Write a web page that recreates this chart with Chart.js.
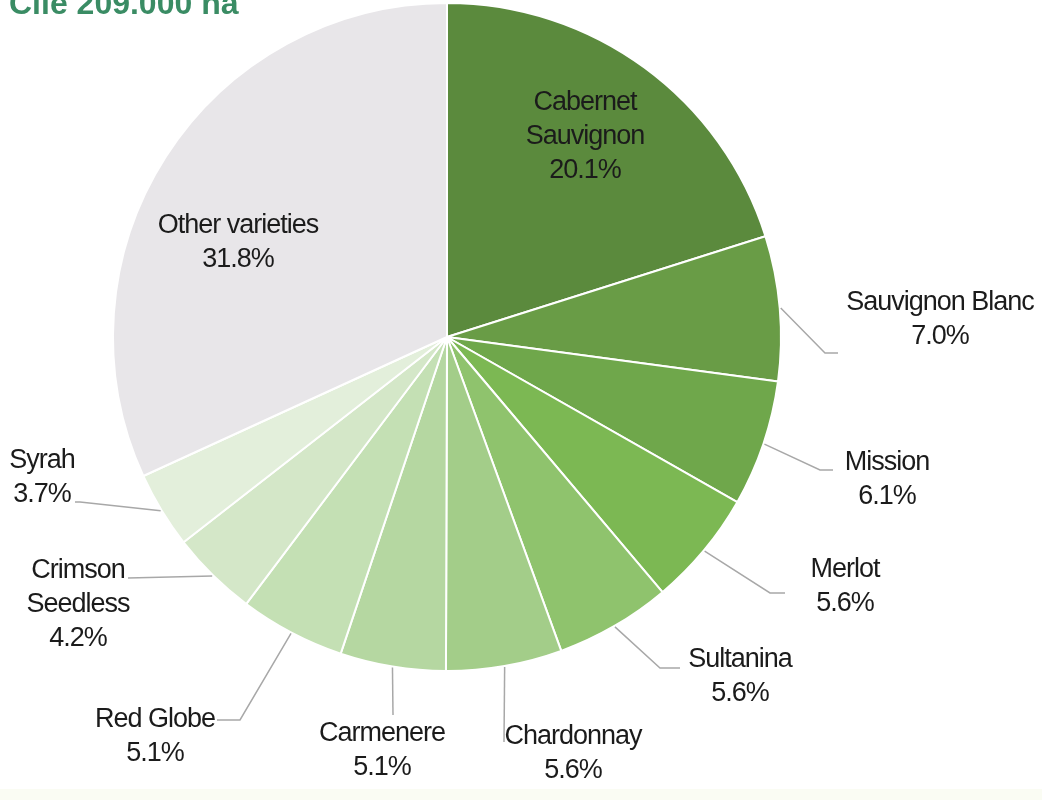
<!DOCTYPE html>
<html>
<head>
<meta charset="utf-8">
<script src="https://cdn.jsdelivr.net/npm/chart.js@4/dist/chart.umd.min.js"></script>
<style>
  html, body { margin: 0; padding: 0; background: #fff; }
  canvas { display: block; }
</style>
</head>
<body>
<canvas id="pieChart" width="1042" height="800"></canvas>
<script>
/** Data: varieties share of Chile vineyard area */
const varieties = [
  "Cabernet Sauvignon", "Sauvignon Blanc", "Mission", "Merlot", "Sultanina",
  "Chardonnay", "Carmenere", "Red Globe", "Crimson Seedless", "Syrah", "Other varieties"
];
const shares = [20.1, 7.0, 6.1, 5.6, 5.6, 5.6, 5.1, 5.1, 4.2, 3.7, 31.8];
const labelLines = [
  ["Cabernet", "Sauvignon"], ["Sauvignon Blanc"], ["Mission"], ["Merlot"], ["Sultanina"],
  ["Chardonnay"], ["Carmenere"], ["Red Globe"], ["Crimson", "Seedless"], ["Syrah"], ["Other varieties"]
];
const sliceColors = [
  "#5b8a3d", "#699c46", "#6fa74b", "#7cb853", "#8fc36d",
  "#a3cd89", "#b5d7a1", "#c4e0b4", "#d4e7c8", "#e3efdb", "#e8e6e9"
];
const titleText = "Cile 209.000 ha";

/** Label placement, relative to pie centre: text = first line centre, leader = bend points */
const labelLayout = [
  { text: [138, -234], leader: null },
  { text: [493, -34],  leader: [[378, 16], [391, 16]] },
  { text: [440, 126],  leader: [[373, 133], [386, 133]] },
  { text: [398, 233],  leader: [[323, 256], [338, 256]] },
  { text: [293, 323],  leader: [[213, 331], [233, 331]] },
  { text: [126, 400],  leader: [[57, 405]] },
  { text: [-65, 397],  leader: [[-54, 378]] },
  { text: [-292, 383], leader: [[-207, 383], [-230, 383]] },
  { text: [-369, 234], leader: [[-319, 241]] },
  { text: [-405, 124], leader: [[-367, 165], [-372, 165]] },
  { text: [-209, -111], leader: null }
];

const LINE_H = 34;
const FONT = '27px "Liberation Sans", Arial, sans-serif';

/** Background strip + title */
const backdrop = {
  id: 'backdrop',
  beforeDraw(chart) {
    const ctx = chart.ctx;
    ctx.save();
    ctx.fillStyle = '#fafcf3';
    ctx.fillRect(0, 789, chart.width, 11);
    ctx.fillStyle = '#3a8c64';
    ctx.font = 'bold 32px "Liberation Sans", Arial, sans-serif';
    ctx.textBaseline = 'alphabetic';
    ctx.fillText(titleText, 9, 14);
    ctx.restore();
  }
};

/** Slice labels with leader lines */
const sliceLabels = {
  id: 'sliceLabels',
  afterDatasetsDraw(chart) {
    const ctx = chart.ctx;
    const meta = chart.getDatasetMeta(0);
    ctx.save();
    meta.data.forEach((arc, i) => {
      const p = arc.getProps(['x', 'y', 'startAngle', 'endAngle', 'outerRadius'], true);
      const lay = labelLayout[i];
      const mid = (p.startAngle + p.endAngle) / 2;

      if (lay.leader) {
        ctx.strokeStyle = '#a8a8a8';
        ctx.lineWidth = 1.5;
        ctx.beginPath();
        ctx.moveTo(p.x + Math.cos(mid) * (p.outerRadius + 1), p.y + Math.sin(mid) * (p.outerRadius + 1));
        lay.leader.forEach(pt => ctx.lineTo(p.x + pt[0], p.y + pt[1]));
        ctx.stroke();
      }

      const lines = [...labelLines[i], shares[i].toFixed(1) + '%'];
      ctx.fillStyle = '#1b1b1b';
      ctx.font = FONT;
      ctx.letterSpacing = '-1px';
      ctx.textAlign = 'center';
      ctx.textBaseline = 'middle';
      lines.forEach((t, k) => {
        ctx.fillText(t, p.x + lay.text[0], p.y + lay.text[1] + k * LINE_H);
      });
    });
    ctx.restore();
  }
};

new Chart(document.getElementById('pieChart'), {
  type: 'pie',
  data: {
    labels: varieties,
    datasets: [{
      data: shares,
      backgroundColor: sliceColors,
      borderColor: '#ffffff',
      borderWidth: 2
    }]
  },
  options: {
    responsive: false,
    animation: false,
    layout: { padding: { left: 112, right: 260, top: 2, bottom: 128 } },
    plugins: {
      legend: { display: false },
      tooltip: { enabled: false }
    }
  },
  plugins: [backdrop, sliceLabels]
});
</script>
</body>
</html>
